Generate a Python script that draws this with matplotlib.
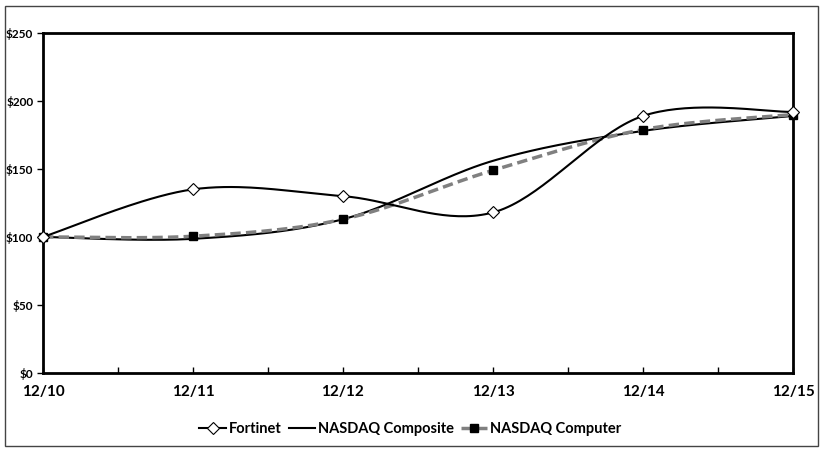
import numpy as np
import matplotlib.pyplot as plt
from matplotlib.patches import Rectangle

# data
years = ["12/10", "12/11", "12/12", "12/13", "12/14", "12/15"]
fortinet = [100, 135, 130, 118, 189, 192]
composite = [100, 98.6, 113, 156, 178, 189]
computer = [100, 100.5, 113, 149, 179, 190]


def smooth(xs, ys, n=40):
    # Catmull-Rom style smoothing like spreadsheet "smoothed line"
    xs = np.asarray(xs, float)
    ys = np.asarray(ys, float)
    px = np.concatenate([[xs[0]], xs, [xs[-1]]])
    py = np.concatenate([[ys[0]], ys, [ys[-1]]])
    outx, outy = [], []
    t = np.linspace(0, 1, n)
    for i in range(1, len(px) - 2):
        p0, p1, p2, p3 = [np.array([px[j], py[j]]) for j in (i - 1, i, i + 1, i + 2)]
        c1 = p1 + (p2 - p0) / 6
        c2 = p2 - (p3 - p1) / 6
        b = ((1 - t) ** 3)[:, None] * p1 + (3 * (1 - t) ** 2 * t)[:, None] * c1 \
            + (3 * (1 - t) * t ** 2)[:, None] * c2 + (t ** 3)[:, None] * p2
        outx.extend(b[:, 0])
        outy.extend(b[:, 1])
    return outx, outy


x = np.arange(len(years))

fig = plt.figure(figsize=(8.26, 4.53), dpi=100)
plt.rcParams['font.family'] = ['Lato', 'DejaVu Sans']
ax = fig.add_axes([0.052, 0.177, 0.908, 0.750])

fig.patches.append(Rectangle((5 / 826, 1 - 446 / 453), 813 / 826, 440 / 453,
                             transform=fig.transFigure, fill=False,
                             edgecolor="#444444", linewidth=1))

sx, sy = smooth(x, composite)
ax.plot(sx, sy, color="black", linewidth=1.5, zorder=2)

sx, sy = smooth(x, computer)
ax.plot(sx, sy, color="#808080", linewidth=2.5, dashes=(3, 1.5), zorder=3)
ax.plot(x, computer, linestyle="none", marker="s", markersize=5.5,
        color="black", zorder=4, clip_on=False)

sx, sy = smooth(x, fortinet)
ax.plot(sx, sy, color="black", linewidth=1.5, zorder=5)
ax.plot(x, fortinet, linestyle="none", marker="D", markersize=6.5,
        markerfacecolor="white", markeredgecolor="black",
        markeredgewidth=0.8, zorder=6, clip_on=False)

ax.set_xlim(0, 5)
ax.set_ylim(0, 250)
ax.set_yticks([0, 50, 100, 150, 200, 250])
ax.set_yticklabels(["$0", "$50", "$100", "$150", "$200", "$250"],
                   fontsize=8.5, fontweight="bold")
ax.set_xticks(x)
ax.set_xticklabels(years, fontsize=11, fontweight="bold")
ax.set_xticks(x[:-1] + 0.5, minor=True)
ax.tick_params(axis="x", which="both", direction="in", length=4, width=1, pad=9)
ax.tick_params(axis="y", direction="out", length=4, width=1, pad=3)
for s in ax.spines.values():
    s.set_linewidth(2)

h1, = ax.plot([], [], color="black", linewidth=1.5, marker="D", markersize=6.5,
              markerfacecolor="white", markeredgecolor="black", markeredgewidth=0.8)
h2, = ax.plot([], [], color="black", linewidth=1.5)
h3, = ax.plot([], [], color="#808080", linewidth=2.5, dashes=(3, 1.5),
              marker="s", markersize=5.5, markerfacecolor="black", markeredgecolor="black")
leg = ax.legend([h1, h2, h3], ["Fortinet", "NASDAQ Composite", "NASDAQ Computer"],
                loc="upper center", bbox_to_anchor=(0.49, -0.105), ncol=3,
                frameon=False, handlelength=1.8, handletextpad=0.2, columnspacing=0.5,
                prop={"size": 10.5, "weight": "bold"})

fig.savefig("out.png", dpi=100)
